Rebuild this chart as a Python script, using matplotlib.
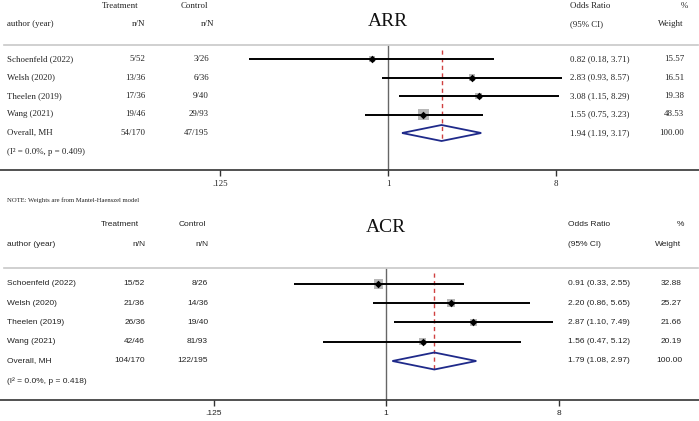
import matplotlib
matplotlib.use('Agg')
import matplotlib.pyplot as plt
from matplotlib.patches import Polygon
from matplotlib.transforms import blended_transform_factory
import numpy as np

W, H = 699, 421

studies = ["Schoenfeld (2022)", "Welsh (2020)", "Theelen (2019)", "Wang (2021)"]

# ARR panel
arr_treat = ["5/52", "13/36", "17/36", "19/46"]
arr_ctrl = ["3/26", "6/36", "9/40", "29/93"]
arr_or = [0.82, 2.83, 3.08, 1.55]
arr_lo = [0.18, 0.93, 1.15, 0.75]
arr_hi = [3.71, 8.57, 8.29, 3.23]
arr_wt = [15.57, 16.51, 19.38, 48.53]
arr_overall = (1.94, 1.19, 3.17)
arr_overall_n = ("54/170", "47/195")
arr_het = "(I² = 0.0%, p = 0.409)"

# ACR panel
acr_treat = ["15/52", "21/36", "26/36", "42/46"]
acr_ctrl = ["8/26", "14/36", "19/40", "81/93"]
acr_or = [0.91, 2.20, 2.87, 1.56]
acr_lo = [0.33, 0.86, 1.10, 0.47]
acr_hi = [2.55, 5.65, 7.49, 5.12]
acr_wt = [32.88, 25.27, 21.66, 20.19]
acr_overall = (1.79, 1.08, 2.97)
acr_overall_n = ("104/170", "122/195")
acr_het = "(I² = 0.0%, p = 0.418)"

ticks = [0.125, 1, 8]
tick_labels = [".125", "1", "8"]

fig = plt.figure(figsize=(W / 100, H / 100), dpi=100)


def panel(top, bot, one_px, px_per_dbl, row0, step, g, title, family, fs,
          treat, ctrl, ors, los, his, wts, overall, overall_n, het, note=None):
    ax = fig.add_axes([0, 1 - bot / H, 1, (bot - top) / H])
    ax.set_xscale('log', base=2)
    ax.set_xlim(2 ** (-one_px / px_per_dbl), 2 ** ((W - one_px) / px_per_dbl))
    ax.set_ylim(bot, top)
    tr = blended_transform_factory(ax.transAxes, ax.transData)
    tc = '#222222'
    kw = dict(family=family, fontsize=fs, color=tc, va='center', transform=tr)

    # headers
    ax.text(g['treat_hdr'] / W, g['h1'], "Treatment", ha='center', **kw)
    ax.text(g['ctrl_hdr'] / W, g['h1'], "Control", ha='center', **kw)
    ax.text(g['or_x'] / W, g['h1'], "Odds Ratio", ha='left', **kw)
    ax.text(g['pct_x'] / W, g['h1'], "%", ha='right', **kw)
    ax.text(7 / W, g['h2'], "author (year)", ha='left', **kw)
    ax.text(g['treat_x'] / W, g['h2'], "n/N", ha='right', **kw)
    ax.text(g['ctrl_nn'] / W, g['h2'], "n/N", ha='right', **kw)
    ax.text(g['or_x'] / W, g['h2'], "(95% CI)", ha='left', **kw)
    ax.text(g['wt_hdr'] / W, g['h2'], "Weight", ha='right', **kw)
    ax.text(1, g['title_y'], title, ha='center', va='center',
            family='Liberation Serif', fontsize=14, color='#111111')

    ax.axhline(g['sep'], xmin=0.006, xmax=0.998, color='#c8c8c8', lw=1.2)

    ys = [row0 + step * i for i in range(len(studies))]
    for i, y in enumerate(ys):
        ax.text(7 / W, y, studies[i], ha='left', **kw)
        ax.text(g['treat_x'] / W, y, treat[i], ha='right', **kw)
        ax.text(g['ctrl_x'] / W, y, ctrl[i], ha='right', **kw)
        ax.text(g['or_x'] / W, y, f"{ors[i]:.2f} ({los[i]:.2f}, {his[i]:.2f})", ha='left', **kw)
        ax.text(g['wt_x'] / W, y, f"{wts[i]:.2f}", ha='right', **kw)
        ax.hlines(y, los[i], his[i], color='black', lw=1.4, zorder=3)
    ax.scatter(ors, ys, s=[1.3 * w for w in wts], marker='s', color='#b8b8b8', zorder=2, linewidths=0)
    ax.scatter(ors, ys, s=15, marker='D', color='black', zorder=4, linewidths=0)

    yo = row0 + step * len(studies)
    est, lo, hi = overall
    ax.text(7 / W, yo, "Overall, MH", ha='left', **kw)
    ax.text(g['treat_x'] / W, yo, overall_n[0], ha='right', **kw)
    ax.text(g['ctrl_x'] / W, yo, overall_n[1], ha='right', **kw)
    ax.text(g['or_x'] / W, yo, f"{est:.2f} ({lo:.2f}, {hi:.2f})", ha='left', **kw)
    ax.text(g['wt_x'] / W, yo, "100.00", ha='right', **kw)
    ax.text(7 / W, yo + step * 1.05, het, ha='left', **kw)
    dh = g['dh']
    ax.add_patch(Polygon([(lo, yo), (est, yo - dh), (hi, yo), (est, yo + dh)], closed=True,
                         fill=False, edgecolor='#1f2a8a', lw=1.3, zorder=3))
    ax.vlines(est, g['red0'], yo + dh, color='#d04040', lw=1.0, linestyles=(0, (3, 2.5)), zorder=1)
    ax.vlines(1, g['sep'], g['axis'], color='#666666', lw=1.0, zorder=1)

    for s in ['top', 'left', 'right']:
        ax.spines[s].set_visible(False)
    ax.spines['bottom'].set_position(('data', g['axis']))
    ax.spines['bottom'].set_color('#333333')
    ax.spines['bottom'].set_linewidth(1.2)
    ax.set_yticks([])
    ax.xaxis.set_minor_locator(matplotlib.ticker.NullLocator())
    ax.set_xticks(ticks)
    ax.set_xticklabels(tick_labels, family=family, fontsize=fs, color=tc)
    ax.tick_params(axis='x', direction='out', length=4.5, width=1.0, color='#333333', pad=3)
    ax.patch.set_alpha(0)
    if note:
        ax.text(7 / W, g['note'], note, ha='left', va='center', family=family,
                fontsize=4.8, color=tc, transform=tr)
    return ax


top_geom = dict(h1=5.5, h2=24, sep=45, axis=170, title_y=22, red0=50, dh=8, note=200,
                treat_hdr=120, ctrl_hdr=194, treat_x=145, ctrl_x=209, ctrl_nn=214,
                or_x=570, pct_x=688, wt_hdr=683, wt_x=684)
panel(0, 205, 388, 56, 59, 18.5, top_geom, "ARR", 'Liberation Serif', 6.4,
      arr_treat, arr_ctrl, arr_or, arr_lo, arr_hi, arr_wt, arr_overall, arr_overall_n, arr_het,
      note="NOTE: Weights are from Mantel-Haenszel model")

bot_geom = dict(h1=225, h2=245, sep=268, axis=400, title_y=228, red0=273, dh=8.5,
                treat_hdr=120, ctrl_hdr=192, treat_x=145, ctrl_x=208, ctrl_nn=208,
                or_x=568, pct_x=684, wt_hdr=681, wt_x=682)
panel(205, 421, 386, 57.5, 284, 19.25, bot_geom, "ACR", 'Liberation Sans', 6,
      acr_treat, acr_ctrl, acr_or, acr_lo, acr_hi, acr_wt, acr_overall, acr_overall_n, acr_het)

fig.savefig('out.png', dpi=100, facecolor='white')
plt.close(fig)
